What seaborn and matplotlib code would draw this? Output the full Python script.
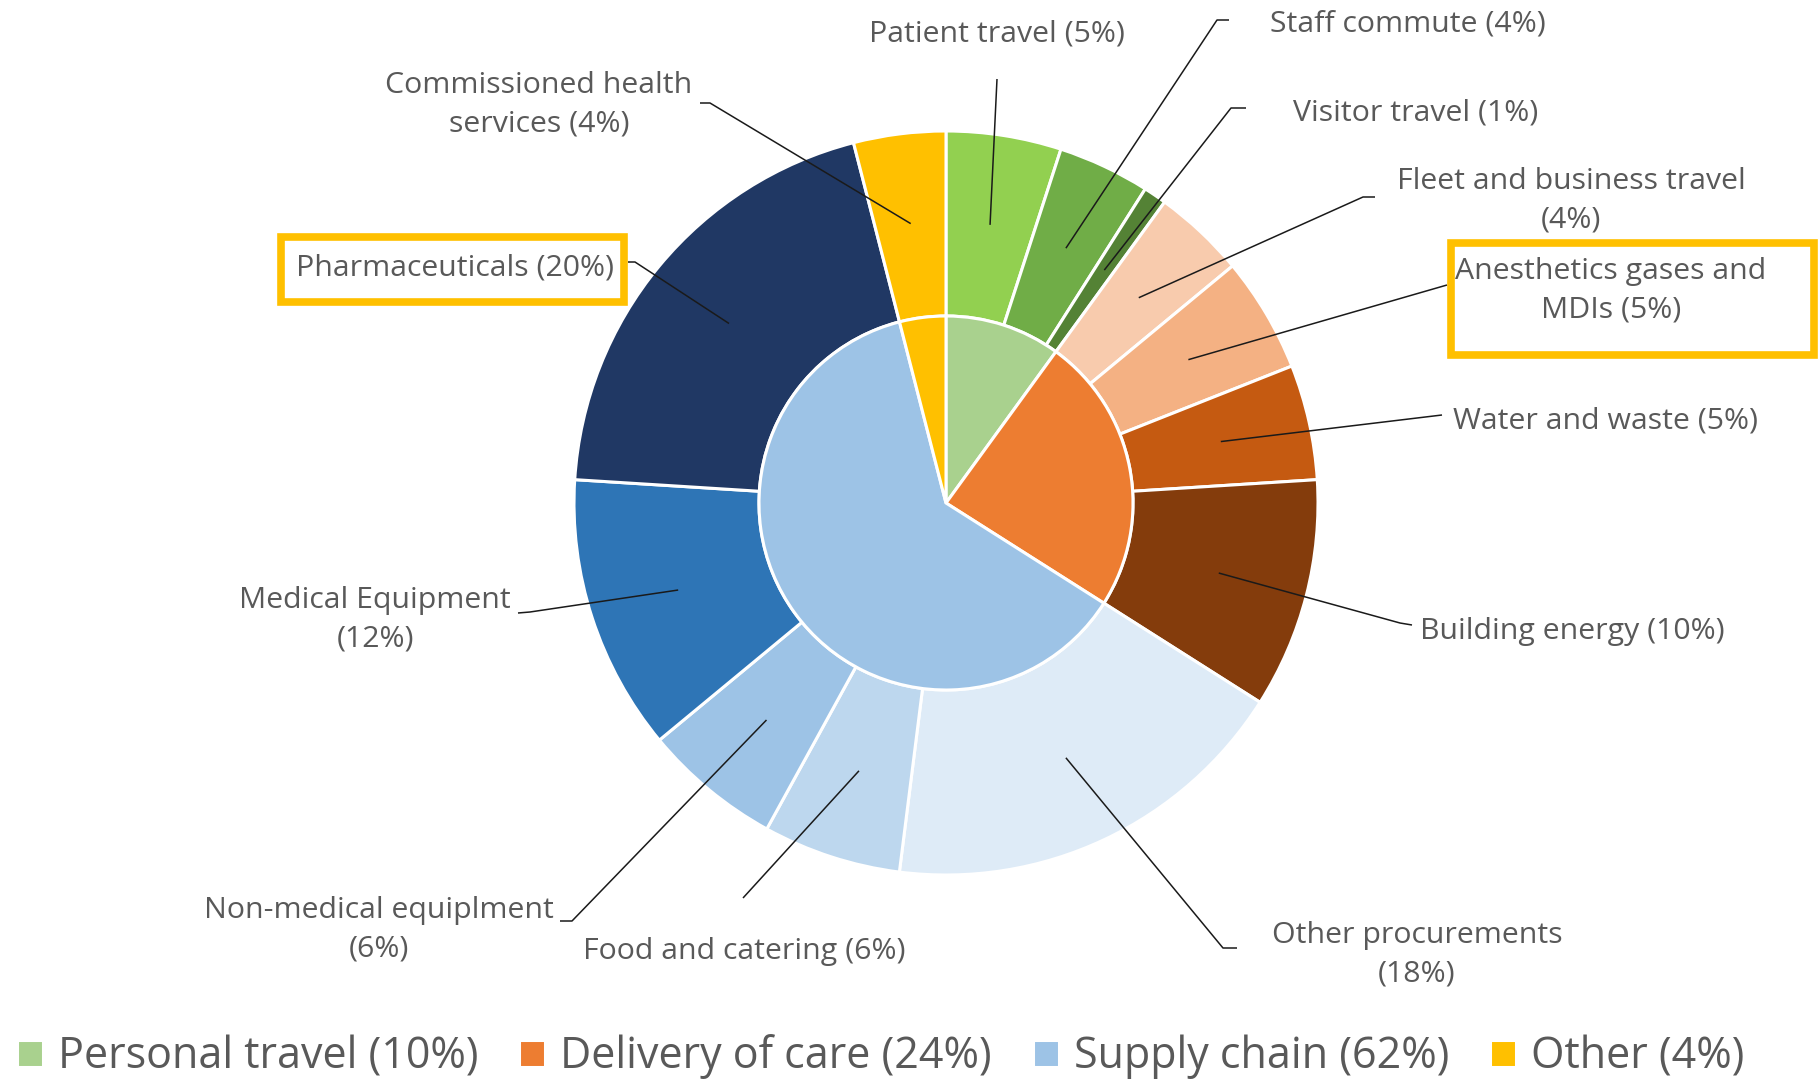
import numpy as np
import matplotlib
matplotlib.use("Agg")
import matplotlib.pyplot as plt
from matplotlib.patches import Rectangle
import seaborn as sns

# inner ring: emission groups
group_labels = ["Personal travel (10%)", "Delivery of care (24%)",
                "Supply chain (62%)", "Other (4%)"]
group_values = [10, 24, 62, 4]
group_colors = ["#A9D18E", "#ED7D31", "#9DC3E6", "#FFC000"]

# outer ring: sources
source_labels = ["Patient travel (5%)", "Staff commute (4%)", "Visitor travel (1%)",
                 "Fleet and business travel\n(4%)", "Anesthetics gases and\nMDIs (5%)",
                 "Water and waste (5%)", "Building energy (10%)",
                 "Other procurements\n(18%)", "Food and catering (6%)",
                 "Non-medical equiplment\n(6%)", "Medical Equipment\n(12%)",
                 "Pharmaceuticals (20%)", "Commissioned health\nservices (4%)"]
source_values = [5, 4, 1, 4, 5, 5, 10, 18, 6, 6, 12, 20, 4]
source_colors = ["#92D050", "#70AD47", "#548235", "#F8CBAD", "#F4B183", "#C55A11",
                 "#843C0C", "#DEEBF7", "#BDD7EE", "#9DC3E6", "#2E75B6", "#203864",
                 "#FFC000"]

W, H = 1818, 1086
cx, cy = 946, H - 503
R_out, R_in = 372, 187

sns.set_theme(style="white")
plt.rcParams['font.family'] = ['Open Sans', 'DejaVu Sans']

fig = plt.figure(figsize=(W / 100, H / 100), dpi=100)
ax = fig.add_axes([0, 0, 1, 1])

outer, _ = ax.pie(source_values, colors=source_colors, radius=R_out, center=(cx, cy),
                  startangle=90, counterclock=False,
                  wedgeprops=dict(width=R_out - R_in, edgecolor="white", linewidth=2.2))
inner, _ = ax.pie(group_values, colors=group_colors, radius=R_in, center=(cx, cy),
                  startangle=90, counterclock=False,
                  wedgeprops=dict(edgecolor="white", linewidth=2.2))

ax.set_xlim(0, W)
ax.set_ylim(0, H)
ax.set_aspect("equal")
ax.axis("off")

# label placement (pixels from top-left): text x, text y, alignment, leader bend points
layout = [
    (997, 31, "center", [(997, 79)]),
    (1270, 21, "left", [(1217, 20), (1229, 20)]),
    (1293, 110, "left", [(1231, 108), (1246, 108)]),
    (1571, 198, "center", [(1363, 197), (1375, 197)]),
    (1611, 288, "center", [(1447, 285)]),
    (1453, 418, "left", [(1442, 415)]),
    (1420, 628, "left", [(1400, 623), (1412, 625)]),
    (1417, 952, "center", [(1223, 948), (1237, 948)]),
    (744, 948, "center", [(743, 898)]),
    (379, 927, "center", [(572, 921), (560, 921)]),
    (375, 617, "center", [(530, 612), (518, 613)]),
    (455, 265, "center", [(635, 262), (628, 262)]),
    (539, 102, "center", [(710, 103), (700, 103)]),
]

text_color = "#595959"
for wedge, label, (tx, ty, ha, bends) in zip(outer, source_labels, layout):
    # leader starts inside the wedge, at its mid angle
    mid = np.deg2rad((wedge.theta1 + wedge.theta2) / 2)
    ax_, ay_ = cx + 0.757 * R_out * np.cos(mid), cy + 0.757 * R_out * np.sin(mid)
    xs = [ax_] + [b[0] for b in bends]
    ys = [ay_] + [H - b[1] for b in bends]
    ax.plot(xs, ys, color="#1a1a1a", lw=1.1, solid_capstyle="butt")
    ax.text(tx, H - ty - 3, label, ha=ha, va="center", fontsize=21.8, color=text_color,
            linespacing=1.42)

# highlight boxes
for x0, y0, x1, y1 in [(281, 237, 624, 302), (1451, 243, 1814, 355)]:
    ax.add_patch(Rectangle((x0, H - y1), x1 - x0, y1 - y0, fill=False,
                           edgecolor="#FFC000", lw=5.5, clip_on=False))

leg = ax.legend(inner, group_labels, ncol=4, loc="center left",
                bbox_to_anchor=(17 / W, 1 - 1057 / H), frameon=False,
                fontsize=31, handlelength=0.6, handleheight=0.6,
                handletextpad=0.35, columnspacing=0.95, borderpad=0, borderaxespad=0)
for t in leg.get_texts():
    t.set_color(text_color)

fig.savefig("out.png", dpi=100, facecolor="white")
